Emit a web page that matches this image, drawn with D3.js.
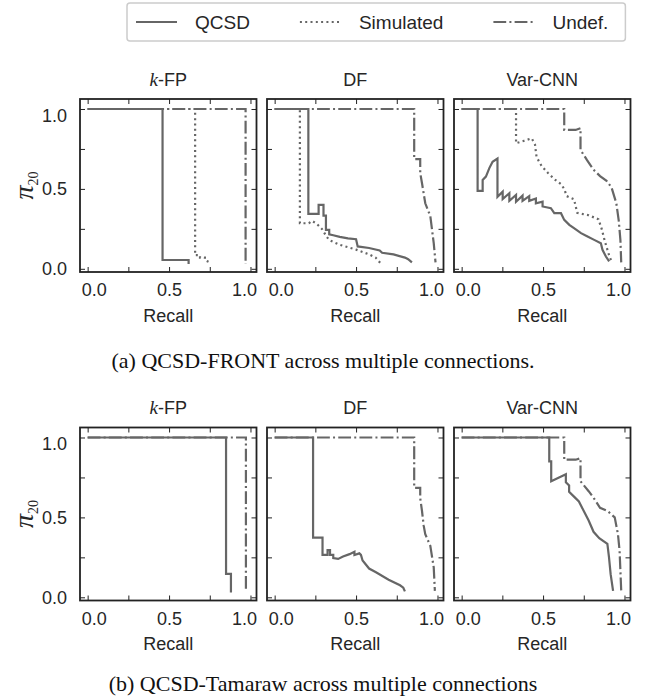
<!DOCTYPE html>
<html>
<head>
<meta charset="utf-8">
<script src="https://cdn.jsdelivr.net/npm/d3@7"></script>
<style>
  body { margin: 0; background: #fff; }
</style>
</head>
<body>
<div class="chart"></div>
<script>
// series and panel names
const seriesNames = ['QCSD', 'Simulated', 'Undef.'];
const attackNames = ['k-FP', 'DF', 'Var-CNN'];
const captions = ['(a) QCSD-FRONT across multiple connections.', '(b) QCSD-Tamaraw across multiple connections'];
const tickValues = [0, 0.25, 0.5, 0.75, 1];
const labelledTicks = [0, 0.5, 1];

// (a) QCSD-FRONT, points are [recall, pi_20]
const frontKfpQcsd = [[0,1],[0.46,1],[0.46,0.055],[0.62,0.055],[0.62,0.03]];
const frontKfpSim = [[0,1],[0.66,1],[0.66,0.085],[0.69,0.085],[0.69,0.07],[0.72,0.07],[0.72,0.055],[0.75,0.04]];
const frontKfpUndef = [[0,1],[0.97,1],[0.97,0.03]];

const frontDfQcsd = [[0,1],[0.207,1],[0.207,0.344],[0.27,0.344],[0.27,0.40],[0.30,0.40],[0.30,0.333],[0.315,0.333],[0.315,0.244],[0.335,0.244],[0.335,0.215],[0.36,0.21],[0.40,0.20],[0.45,0.19],[0.50,0.185],[0.51,0.14],[0.58,0.13],[0.645,0.115],[0.66,0.10],[0.73,0.09],[0.80,0.07],[0.82,0.06],[0.843,0.04]];
const frontDfSim = [[0,1],[0.155,1],[0.155,0.285],[0.21,0.285],[0.23,0.30],[0.26,0.28],[0.29,0.25],[0.32,0.20],[0.335,0.18],[0.40,0.15],[0.50,0.12],[0.58,0.09],[0.62,0.07],[0.65,0.035]];
const frontDfUndef = [[0,1],[0.857,1],[0.857,0.686],[0.894,0.686],[0.894,0.60],[0.905,0.535],[0.925,0.41],[0.956,0.33],[0.977,0.16],[0.988,0.04]];

const frontVarQcsd = [[0,1],[0.098,1],[0.098,0.4875],[0.129,0.4875],[0.129,0.556],[0.149,0.577],[0.17,0.63],[0.19,0.67],[0.22,0.69],[0.22,0.45],[0.252,0.483],[0.252,0.436],[0.293,0.473],[0.293,0.426],[0.334,0.4625],[0.334,0.42],[0.374,0.458],[0.374,0.425],[0.415,0.455],[0.415,0.425],[0.456,0.44],[0.456,0.41],[0.497,0.42],[0.497,0.39],[0.548,0.379],[0.569,0.348],[0.61,0.348],[0.63,0.306],[0.661,0.275],[0.69,0.254],[0.733,0.223],[0.773,0.202],[0.814,0.181],[0.855,0.16],[0.865,0.119],[0.886,0.077],[0.906,0.046]];
const frontVarSim = [[0,1],[0.334,1],[0.334,0.786],[0.38,0.80],[0.43,0.816],[0.45,0.78],[0.46,0.70],[0.49,0.645],[0.53,0.60],[0.57,0.56],[0.61,0.53],[0.63,0.50],[0.645,0.455],[0.69,0.435],[0.71,0.35],[0.78,0.335],[0.84,0.31],[0.86,0.25],[0.88,0.17],[0.91,0.07],[0.925,0.04]];
const frontVarUndef = [[0,1],[0.63,1],[0.63,0.869],[0.70,0.869],[0.73,0.88],[0.73,0.744],[0.77,0.68],[0.81,0.62],[0.85,0.58],[0.89,0.55],[0.92,0.51],[0.95,0.41],[0.965,0.30],[0.975,0.18],[0.98,0.04]];

// (b) QCSD-Tamaraw
const tamKfpQcsd = [[0,1],[0.85,1],[0.85,0.146],[0.88,0.146],[0.88,0.03]];
const tamKfpUndef = [[0,1],[0.972,1],[0.972,0.04]];

const tamDfQcsd = [[0,1],[0.236,1],[0.236,0.373],[0.294,0.373],[0.294,0.266],[0.325,0.266],[0.325,0.295],[0.34,0.295],[0.34,0.265],[0.36,0.265],[0.36,0.245],[0.39,0.24],[0.42,0.255],[0.46,0.27],[0.49,0.285],[0.49,0.265],[0.52,0.275],[0.53,0.265],[0.54,0.23],[0.58,0.18],[0.625,0.155],[0.70,0.11],[0.77,0.075],[0.79,0.06],[0.80,0.037]];
const tamDfUndef = [[0,1],[0.857,1],[0.857,0.685],[0.894,0.685],[0.894,0.62],[0.905,0.54],[0.915,0.45],[0.925,0.395],[0.956,0.322],[0.977,0.187],[0.984,0.04]];

const tamVarQcsd = [[0,1],[0.538,1],[0.538,0.85],[0.55,0.85],[0.55,0.726],[0.64,0.77],[0.64,0.72],[0.66,0.70],[0.66,0.66],[0.69,0.63],[0.72,0.60],[0.75,0.54],[0.78,0.48],[0.81,0.41],[0.845,0.37],[0.895,0.335],[0.905,0.25],[0.915,0.145],[0.93,0.04]];
const tamVarUndef = [[0,1],[0.63,1],[0.63,0.861],[0.70,0.861],[0.73,0.87],[0.73,0.726],[0.78,0.664],[0.81,0.623],[0.85,0.56],[0.896,0.54],[0.94,0.50],[0.96,0.395],[0.97,0.29],[0.98,0.04]];

// rows of panels, each panel = [qcsd, simulated, undef]
const rowsData = [
  [[frontKfpQcsd, frontKfpSim, frontKfpUndef], [frontDfQcsd, frontDfSim, frontDfUndef], [frontVarQcsd, frontVarSim, frontVarUndef]],
  [[tamKfpQcsd, null, tamKfpUndef], [tamDfQcsd, null, tamDfUndef], [tamVarQcsd, null, tamVarUndef]]
];

const width = 646, height = 698;
const panelW = 176.5, panelH = 173;
const panelLeft = [80, 267, 454];
const rowTop = [99, 427.5];
const lineColor = '#666';
const textColor = '#262626';
const sans = '"Liberation Sans", Arial, Helvetica, sans-serif';
const serif = '"Liberation Serif", "Times New Roman", serif';
const dashes = [null, '2,3.3', '12.8,3.2,2,3.2'];

const svg = d3.select('.chart').append('svg')
  .attr('width', width)
  .attr('height', height)
  .style('background', 'white');

const x = d3.scaleLinear().domain([-0.047, 1.037]).range([0, panelW]);
const y = d3.scaleLinear().domain([-0.02, 1.0625]).range([panelH, 0]);
const fmt = d => labelledTicks.includes(d) ? d3.format('.1f')(d) : '';

const line = d3.line()
  .x(d => x(d[0]))
  .y(d => y(d[1]));

rowsData.forEach((row, r) => {
  row.forEach((panel, c) => {
    const g = svg.append('g')
      .attr('transform', 'translate(' + panelLeft[c] + ',' + rowTop[r] + ')');

    // lines
    panel.forEach((pts, s) => {
      if (!pts) return;
      g.append('path')
        .attr('d', line(pts))
        .attr('fill', 'none')
        .attr('stroke', lineColor)
        .attr('stroke-width', 2.2)
        .attr('stroke-dasharray', dashes[s]);
    });

    // axes with inward ticks on all sides
    const bottom = g.append('g')
      .attr('transform', 'translate(0,' + panelH + ')')
      .call(d3.axisBottom(x).tickValues(tickValues).tickFormat(fmt).tickSizeInner(-5).tickSizeOuter(0).tickPadding(11.5));
    const top = g.append('g')
      .call(d3.axisTop(x).tickValues(tickValues).tickFormat('').tickSizeInner(-5).tickSizeOuter(0));
    const left = g.append('g')
      .call(d3.axisLeft(y).tickValues(tickValues).tickFormat(c === 0 ? fmt : '').tickSizeInner(-5).tickSizeOuter(0).tickPadding(13));
    const right = g.append('g')
      .attr('transform', 'translate(' + panelW + ',0)')
      .call(d3.axisRight(y).tickValues(tickValues).tickFormat('').tickSizeInner(-5).tickSizeOuter(0));
    [bottom, top, left, right].forEach(a => {
      a.select('.domain').remove();
      a.selectAll('line').attr('stroke', '#222').attr('stroke-width', 1);
      a.selectAll('text').attr('fill', textColor).style('font-family', sans).style('font-size', '18px');
    });
    // end labels are nudged inwards as in the original
    bottom.selectAll('text').attr('dx', d => d === 0 ? 6 : d === 1 ? -6.5 : 0);
    left.selectAll('text').attr('transform', d => d === 1 ? 'translate(0,6.5)' : null);

    g.append('rect')
      .attr('width', panelW)
      .attr('height', panelH)
      .attr('fill', 'none')
      .attr('stroke', '#222')
      .attr('stroke-width', 1.8);

    // title
    const title = g.append('text')
      .attr('x', panelW / 2)
      .attr('y', -13.5)
      .attr('text-anchor', 'middle')
      .attr('fill', textColor)
      .style('font-family', sans)
      .style('font-size', '18px');
    if (attackNames[c] === 'k-FP') {
      title.append('tspan').style('font-family', serif).style('font-style', 'italic').style('font-size', '19px').text('k');
      title.append('tspan').text('-FP');
    } else {
      title.text(attackNames[c]);
    }

    g.append('text')
      .attr('x', panelW / 2)
      .attr('y', panelH + 49.5)
      .attr('text-anchor', 'middle')
      .attr('fill', textColor)
      .style('font-family', sans)
      .style('font-size', '18px')
      .text('Recall');

    if (c === 0) {
      const yl = g.append('text')
        .attr('transform', 'translate(-47,' + (panelH / 2) + ') rotate(-90)')
        .attr('text-anchor', 'middle')
        .attr('fill', textColor)
        .style('font-family', serif);
      yl.append('tspan').style('font-style', 'italic').style('font-size', '28px').text('π');
      yl.append('tspan').attr('dy', 5).style('font-size', '14px').text('20');
    }
  });

  svg.append('text')
    .attr('x', width / 2)
    .attr('y', r === 0 ? 367.5 : 691)
    .attr('text-anchor', 'middle')
    .attr('fill', '#111')
    .style('font-family', serif)
    .style('font-size', '22px')
    .text(captions[r]);
});

// legend
const legend = svg.append('g');
const legendBox = legend.append('rect')
  .attr('y', 3)
  .attr('height', 38)
  .attr('rx', 3)
  .attr('fill', 'white')
  .attr('stroke', '#cccccc')
  .attr('stroke-width', 1.5);
let lx = 136;
seriesNames.forEach((name, s) => {
  legend.append('line')
    .attr('x1', lx).attr('x2', lx + 41)
    .attr('y1', 22).attr('y2', 22)
    .attr('stroke', lineColor)
    .attr('stroke-width', 2.2)
    .attr('stroke-dasharray', dashes[s]);
  const t = legend.append('text')
    .attr('x', lx + 59)
    .attr('y', 29)
    .attr('fill', textColor)
    .style('font-family', sans)
    .style('font-size', '19px')
    .text(name);
  lx = lx + 59 + t.node().getComputedTextLength() + 50;
});
legendBox.attr('x', 127).attr('width', lx - 50 + 17 - 127);
</script>
</body>
</html>
